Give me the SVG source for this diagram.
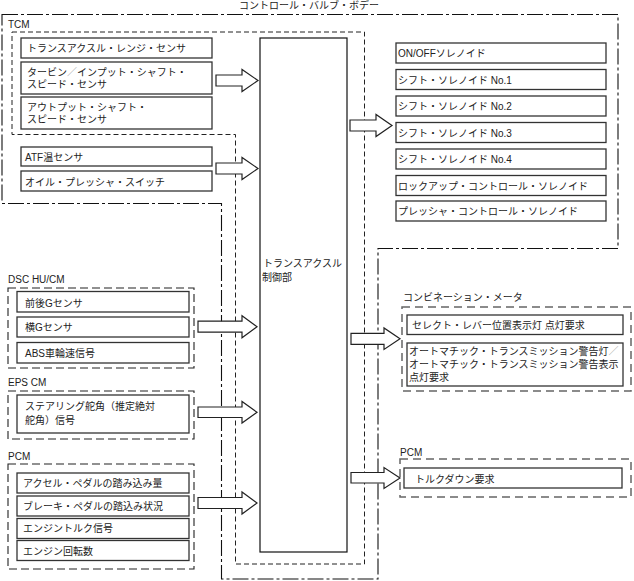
<svg xmlns="http://www.w3.org/2000/svg" width="634" height="581" viewBox="0 0 634 581">
<style>
text{font-family:"Liberation Sans","Noto Sans CJK JP",sans-serif;font-size:10px;fill:#222}
.box{fill:#fff;stroke:#333;stroke-width:1.3}
.core{fill:#fff;stroke:#111;stroke-width:1.2}
.outer{fill:none;stroke:#111;stroke-width:1.1;stroke-dasharray:16 3 3 3}
.tcm{fill:none;stroke:#222;stroke-width:1;stroke-dasharray:5 3}
.grp{fill:none;stroke:#222;stroke-width:1.1;stroke-dasharray:8 4}
.grpg{fill:none;stroke:#666;stroke-width:1.5;stroke-dasharray:8 5}
.arr{fill:#fff;stroke:#222;stroke-width:1.2;stroke-linejoin:miter}
.sl{fill:#999}
</style>
<rect width="634" height="581" fill="#fff"/>

<g id="valve-body">
<path class="outer" d="M2,14.5 H618 V248.5 H378 V579 H221.5 V203.5 H2 Z"/>
<text x="239" y="9">コントロール・バルブ・ボデー</text>
</g>

<g id="tcm">
<path class="tcm" d="M12,32 H364.5 V564 H235.5 V134.5 H12 Z"/>
<text x="8" y="28">TCM</text>
</g>

<g id="tcm-range"><rect class="box" x="21" y="38" width="191" height="20"/><text x="27" y="52">トランスアクスル・レンジ・センサ</text></g>
<g id="tcm-turbine"><rect class="box" x="21" y="62" width="191" height="32"/><text x="27" y="75.5">タービン<tspan class="sl">／</tspan>インプット・シャフト・</text><text x="27" y="87.5">スピード・センサ</text></g>
<g id="tcm-output"><rect class="box" x="21" y="97" width="191" height="32"/><text x="27" y="110.5">アウトプット・シャフト・</text><text x="27" y="122.5">スピード・センサ</text></g>
<g id="tcm-atf"><rect class="box" x="21" y="147" width="191" height="19"/><text x="25" y="160.5">ATF温センサ</text></g>
<g id="tcm-oil"><rect class="box" x="21" y="171" width="191" height="20"/><text x="25" y="186">オイル・プレッシャ・スイッチ</text></g>

<g id="control-unit"><rect class="core" x="260" y="38" width="87" height="514"/><text x="263" y="267">トランスアクスル</text><text x="262" y="280.5">制御部</text></g>

<g id="sol-onoff"><rect class="box" x="396" y="43" width="210" height="20"/><text x="398" y="56.5">ON/OFFソレノイド</text></g>
<g id="sol-1"><rect class="box" x="396" y="69.5" width="210" height="20"/><text x="398" y="83.5">シフト・ソレノイド No.1</text></g>
<g id="sol-2"><rect class="box" x="396" y="96" width="210" height="20"/><text x="398" y="110">シフト・ソレノイド No.2</text></g>
<g id="sol-3"><rect class="box" x="396" y="122.5" width="210" height="20"/><text x="398" y="136.5">シフト・ソレノイド No.3</text></g>
<g id="sol-4"><rect class="box" x="396" y="149" width="210" height="20"/><text x="398" y="163">シフト・ソレノイド No.4</text></g>
<g id="sol-lockup"><rect class="box" x="396" y="175.5" width="210" height="20"/><text x="398" y="189.5">ロックアップ・コントロール・ソレノイド</text></g>
<g id="sol-pressure"><rect class="box" x="396" y="201" width="210" height="20"/><text x="398" y="215">プレッシャ・コントロール・ソレノイド</text></g>

<g id="dsc">
<rect class="grp" x="8" y="288" width="186" height="80"/>
<text x="8" y="283">DSC HU/CM</text>
</g>
<g id="dsc-long"><rect class="box" x="17" y="291.5" width="172" height="20.5"/><text x="25" y="306.5">前後Gセンサ</text></g>
<g id="dsc-lat"><rect class="box" x="17" y="317" width="172" height="20"/><text x="25" y="330.5">横Gセンサ</text></g>
<g id="dsc-abs"><rect class="box" x="17" y="342.5" width="172" height="20.5"/><text x="25" y="357">ABS車輪速信号</text></g>

<g id="eps">
<rect class="grp" x="8" y="391" width="186" height="48"/>
<text x="8" y="386">EPS CM</text>
</g>
<g id="eps-steer"><rect class="box" x="17" y="395" width="172" height="38"/><text x="25" y="410">ステアリング舵角（推定絶対</text><text x="25" y="423.5">舵角）信号</text></g>

<g id="pcm-in">
<rect class="grp" x="8" y="464" width="186" height="105"/>
<text x="8" y="460">PCM</text>
</g>
<g id="pcm-accel"><rect class="box" x="17" y="473" width="172" height="20"/><text x="23" y="487">アクセル・ペダルの踏み込み量</text></g>
<g id="pcm-brake"><rect class="box" x="17" y="496" width="172" height="20"/><text x="23" y="510">ブレーキ・ペダルの踏込み状況</text></g>
<g id="pcm-torque"><rect class="box" x="17" y="518.5" width="172" height="20"/><text x="23" y="532">エンジントルク信号</text></g>
<g id="pcm-rpm"><rect class="box" x="17" y="540.5" width="172" height="20"/><text x="23" y="555">エンジン回転数</text></g>

<g id="combination-meter">
<rect class="grpg" x="402" y="307" width="229" height="84"/>
<text x="403" y="301">コンビネーション・メータ</text>
</g>
<g id="cm-select"><rect class="box" x="407" y="315" width="216" height="19.5"/><text x="412" y="329">セレクト・レバー位置表示灯 点灯要求</text></g>
<g id="cm-warn"><rect class="box" x="407" y="343" width="216" height="43"/><text x="409" y="354.5">オートマチック・トランスミッション警告灯<tspan class="sl">／</tspan></text><text x="409" y="367.5">オートマチック・トランスミッション警告表示</text><text x="409" y="380.5">点灯要求</text></g>

<g id="pcm-out">
<rect class="grpg" x="400" y="459" width="231" height="38"/>
<text x="400" y="455.5">PCM</text>
</g>
<g id="pcm-torquedown"><rect class="box" x="404" y="468" width="218" height="20"/><text x="415" y="482.5">トルクダウン要求</text></g>

<g id="connectors">
<polygon class="arr" points="216,75 242,75 242,69.5 258,80.5 242,91.5 242,86 216,86"/>
<polygon class="arr" points="216,163 242,163 242,157.5 258,168.5 242,179.5 242,174 216,174"/>
<polygon class="arr" points="198,321.2 242,321.2 242,315.7 257,326.7 242,337.7 242,332.2 198,332.2"/>
<polygon class="arr" points="198,407 242,407 242,401.5 257,412.3 242,423 242,417.5 198,417.5"/>
<polygon class="arr" points="198,497.5 242,497.5 242,492 257,503 242,514 242,508.5 198,508.5"/>
<polygon class="arr" points="350,120 376,120 376,114.5 392,125.5 376,136.5 376,131 350,131"/>
<polygon class="arr" points="351,333.3 384,333.3 384,328 400,338.8 384,349.5 384,344.3 351,344.3"/>
<polygon class="arr" points="351,472.5 384,472.5 384,467.5 400,478 384,488.5 384,483 351,483"/>
</g>
</svg>
